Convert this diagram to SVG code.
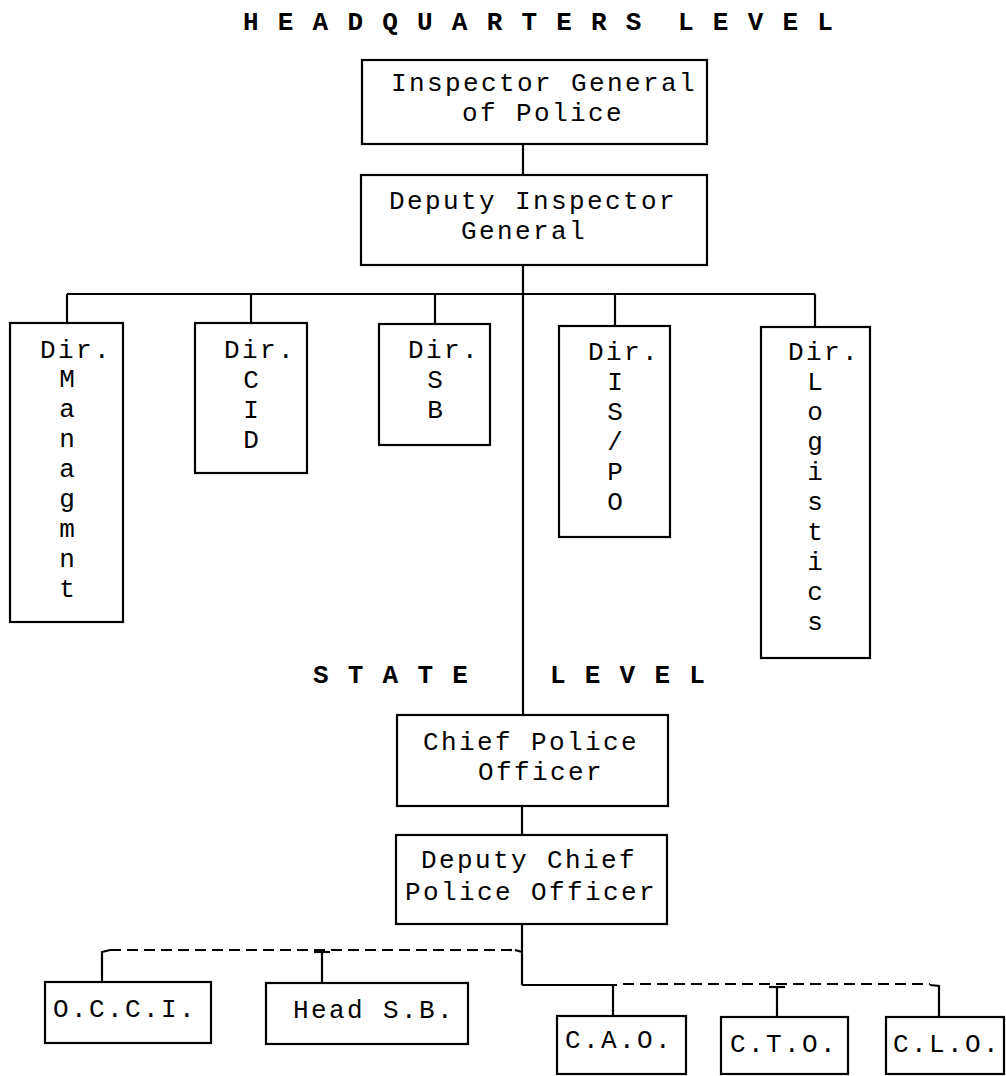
<svg xmlns="http://www.w3.org/2000/svg" width="1006" height="1076" viewBox="0 0 1006 1076">
<style>
  .box { fill: #ffffff; stroke: #000000; stroke-width: 2.2; }
  .ln { fill: none; stroke: #000000; stroke-width: 2.2; }
  .dash { fill: none; stroke: #000000; stroke-width: 2.2; stroke-dasharray: 11 6; }
  text { font-family: "Liberation Mono", "DejaVu Sans Mono", monospace; font-size: 26px; letter-spacing: 2.4px; fill: #000000; }
  .hdr { font-size: 26px; letter-spacing: 1.8px; font-weight: bold; white-space: pre; }
  .mid { text-anchor: middle; letter-spacing: 0; }
</style>
<rect width="1006" height="1076" fill="#ffffff"/>

<g id="headers">
  <text class="hdr" x="243" y="30" xml:space="preserve">H E A D Q U A R T E R S  L E V E L</text>
  <text class="hdr" x="313" y="683" xml:space="preserve">S T A T E</text>
  <text class="hdr" x="550" y="683" xml:space="preserve">L E V E L</text>
</g>

<g id="connectors">
  <line class="ln" x1="523" y1="144" x2="523" y2="175"/>
  <line class="ln" x1="523" y1="265" x2="523" y2="715"/>
  <line class="ln" x1="67" y1="294" x2="815" y2="294"/>
  <line class="ln" x1="67" y1="294" x2="67" y2="323"/>
  <line class="ln" x1="251" y1="294" x2="251" y2="323"/>
  <line class="ln" x1="435" y1="294" x2="435" y2="324"/>
  <line class="ln" x1="615" y1="294" x2="615" y2="326"/>
  <line class="ln" x1="815" y1="294" x2="815" y2="327"/>
  <line class="ln" x1="522" y1="806" x2="522" y2="835"/>
  <line class="ln" x1="522" y1="924" x2="522" y2="985"/>
  <line class="dash" x1="110" y1="950" x2="515" y2="950"/>
  <polyline class="ln" points="102,982 102,952 110,950"/>
  <line class="ln" x1="515" y1="950" x2="522" y2="952"/>
  <line class="ln" x1="322" y1="952" x2="322" y2="983"/>
  <line class="ln" x1="314" y1="952" x2="330" y2="952"/>
  <line class="ln" x1="522" y1="985" x2="617" y2="985"/>
  <line class="dash" x1="623" y1="984" x2="930" y2="984"/>
  <polyline class="ln" points="930,985 939,986 939,1017"/>
  <line class="ln" x1="613" y1="985" x2="613" y2="1016"/>
  <line class="ln" x1="777" y1="987" x2="777" y2="1017"/>
  <line class="ln" x1="769" y1="987" x2="785" y2="987"/>
</g>

<g id="igp">
  <rect class="box" x="362" y="60" width="345" height="84"/>
  <text x="391" y="91">Inspector General</text>
  <text x="462" y="121">of Police</text>
</g>
<g id="dig">
  <rect class="box" x="361" y="175" width="346" height="90"/>
  <text x="389" y="209">Deputy Inspector</text>
  <text x="461" y="239">General</text>
</g>

<g id="dir-managmnt">
  <rect class="box" x="10" y="323" width="113" height="299"/>
  <text x="40" y="358">Dir.</text>
  <text class="mid" x="67" y="387">M</text>
  <text class="mid" x="67" y="417">a</text>
  <text class="mid" x="67" y="447">n</text>
  <text class="mid" x="67" y="477">a</text>
  <text class="mid" x="67" y="507">g</text>
  <text class="mid" x="67" y="537">m</text>
  <text class="mid" x="67" y="567">n</text>
  <text class="mid" x="67" y="597">t</text>
</g>
<g id="dir-cid">
  <rect class="box" x="195" y="323" width="112" height="150"/>
  <text x="224" y="358">Dir.</text>
  <text class="mid" x="251" y="388">C</text>
  <text class="mid" x="251" y="418">I</text>
  <text class="mid" x="251" y="448">D</text>
</g>
<g id="dir-sb">
  <rect class="box" x="379" y="324" width="111" height="121"/>
  <text x="408" y="358">Dir.</text>
  <text class="mid" x="435" y="388">S</text>
  <text class="mid" x="435" y="418">B</text>
</g>
<g id="dir-ispo">
  <rect class="box" x="559" y="326" width="111" height="211"/>
  <text x="588" y="360">Dir.</text>
  <text class="mid" x="615" y="390">I</text>
  <text class="mid" x="615" y="420">S</text>
  <text class="mid" x="615" y="450">/</text>
  <text class="mid" x="615" y="480">P</text>
  <text class="mid" x="615" y="510">O</text>
</g>
<g id="dir-logistics">
  <rect class="box" x="761" y="327" width="109" height="331"/>
  <text x="788" y="360">Dir.</text>
  <text class="mid" x="815" y="390">L</text>
  <text class="mid" x="815" y="420">o</text>
  <text class="mid" x="815" y="450">g</text>
  <text class="mid" x="815" y="480">i</text>
  <text class="mid" x="815" y="510">s</text>
  <text class="mid" x="815" y="540">t</text>
  <text class="mid" x="815" y="570">i</text>
  <text class="mid" x="815" y="600">c</text>
  <text class="mid" x="815" y="630">s</text>
</g>

<g id="cpo">
  <rect class="box" x="397" y="715" width="271" height="91"/>
  <text x="423" y="750">Chief Police</text>
  <text x="478" y="780">Officer</text>
</g>
<g id="dcpo">
  <rect class="box" x="396" y="835" width="271" height="89"/>
  <text x="421" y="868">Deputy Chief</text>
  <text x="405" y="900">Police Officer</text>
</g>

<g id="occi">
  <rect class="box" x="45" y="982" width="166" height="61"/>
  <text x="53" y="1017">O.C.C.I.</text>
</g>
<g id="head-sb">
  <rect class="box" x="266" y="983" width="202" height="61"/>
  <text x="293" y="1018">Head S.B.</text>
</g>
<g id="cao">
  <rect class="box" x="557" y="1016" width="129" height="58"/>
  <text x="565" y="1048">C.A.O.</text>
</g>
<g id="cto">
  <rect class="box" x="721" y="1017" width="127" height="57"/>
  <text x="730" y="1052">C.T.O.</text>
</g>
<g id="clo">
  <rect class="box" x="886" y="1017" width="118" height="57"/>
  <text x="893" y="1052">C.L.O.</text>
</g>
</svg>
